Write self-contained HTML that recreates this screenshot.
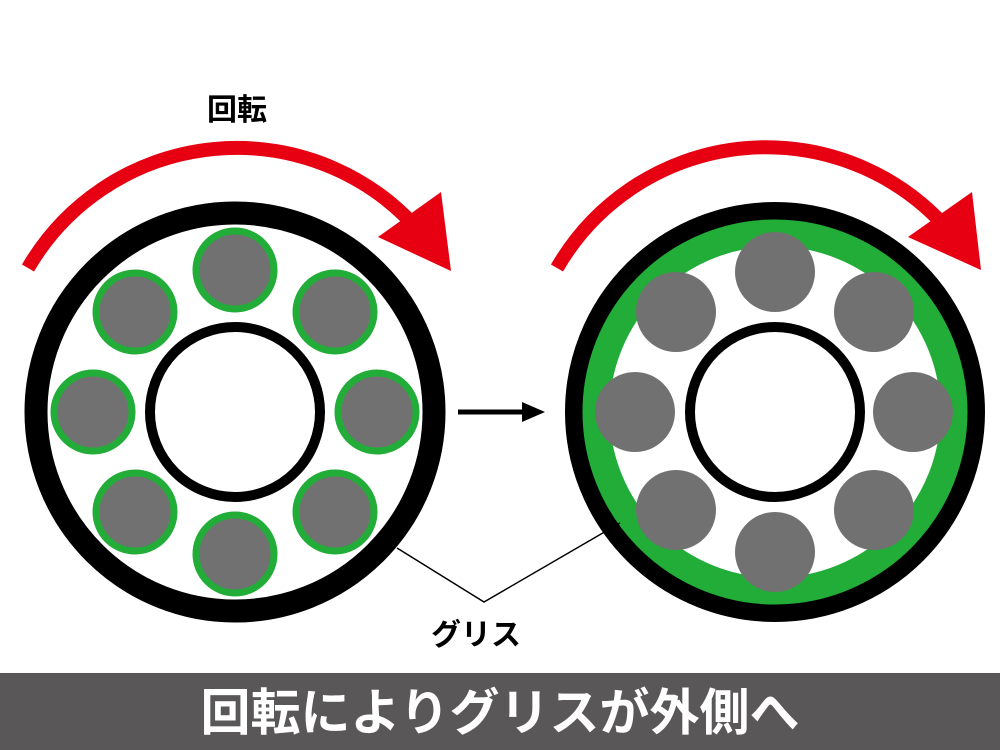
<!DOCTYPE html>
<html><head><meta charset="utf-8"><style>
html,body{margin:0;padding:0;background:#fff;}
svg{display:block;}
text{font-family:"Liberation Sans","Noto Sans CJK JP",sans-serif;}
</style></head><body>
<svg width="1000" height="750" viewBox="0 0 1000 750">
<rect width="1000" height="750" fill="#fff"/>
<path d="M28,268 A241.6,241.6 0 0 1 420,232" fill="none" stroke="#e60012" stroke-width="14"/>
<polygon points="451,271 378,237 441,192" fill="#e60012"/>
<path d="M557,268 A241.6,241.6 0 0 1 950,232" fill="none" stroke="#e60012" stroke-width="14"/>
<polygon points="981,270 908,237 972,192" fill="#e60012"/>
<text x="237" y="120" font-size="30" font-weight="bold" text-anchor="middle" fill="#000">回転</text>
<circle cx="235" cy="412" r="199" fill="none" stroke="#000" stroke-width="23"/>
<circle cx="235" cy="412" r="85" fill="none" stroke="#000" stroke-width="10"/>
<g fill="#727171" stroke="#22ac38" stroke-width="7">
<circle cx="235" cy="270" r="39"/>
<circle cx="235" cy="554" r="39"/>
<circle cx="93" cy="412" r="39"/>
<circle cx="377" cy="412" r="39"/>
<circle cx="135" cy="312" r="39"/>
<circle cx="335" cy="312" r="39"/>
<circle cx="135" cy="512" r="39"/>
<circle cx="335" cy="512" r="39"/>
</g>
<line x1="458" y1="412" x2="525" y2="412" stroke="#000" stroke-width="5"/>
<polygon points="545,412 522,402 522,422" fill="#000"/>
<circle cx="775" cy="412" r="201" fill="none" stroke="#000" stroke-width="18"/>
<circle cx="775" cy="412" r="179" fill="none" stroke="#22ac38" stroke-width="27"/>
<circle cx="775" cy="412" r="85" fill="none" stroke="#000" stroke-width="10"/>
<g fill="#727171">
<circle cx="775" cy="272" r="40"/>
<circle cx="775" cy="552" r="40"/>
<circle cx="635" cy="412" r="40"/>
<circle cx="913" cy="412" r="40"/>
<circle cx="676" cy="312" r="40"/>
<circle cx="874" cy="312" r="40"/>
<circle cx="676" cy="510" r="40"/>
<circle cx="874" cy="510" r="40"/>
</g>
<polyline points="397,548 484,602 620,523" fill="none" stroke="#000" stroke-width="1.5"/>
<text x="476" y="645" font-size="30" font-weight="bold" text-anchor="middle" fill="#000">グリス</text>
<rect x="0" y="673" width="1000" height="77" fill="#595757"/>
<text x="500" y="730" font-size="50" font-weight="bold" text-anchor="middle" fill="#fff">回転によりグリスが外側へ</text>
</svg>
</body></html>
